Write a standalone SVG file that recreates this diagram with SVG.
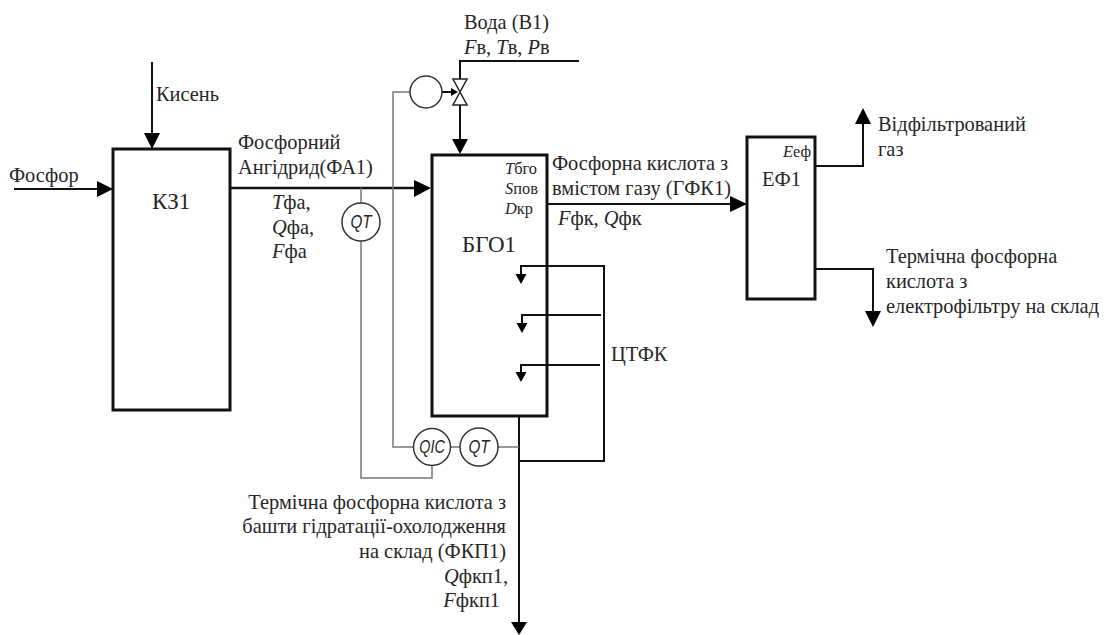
<svg xmlns="http://www.w3.org/2000/svg" width="1107" height="635" viewBox="0 0 1107 635">
<style>
text{font-family:"Liberation Serif","Times New Roman",serif;font-size:20.4px;fill:#262626}
.i{font-style:italic}
.big{font-size:23px}
.s{font-size:16.4px}
.q{font-family:"Liberation Sans",Arial,sans-serif;font-style:italic;font-size:18px;text-anchor:middle}
.box{fill:#fff;stroke:#111;stroke-width:3}
.k{fill:none;stroke:#111;stroke-width:2}
.k3{fill:none;stroke:#111;stroke-width:2.5}
.g{fill:none;stroke:#777;stroke-width:1.5}
.c{fill:#fff;stroke:#333;stroke-width:1.5}
.a{fill:#000;stroke:none}
</style>
<rect width="1107" height="635" fill="#fff"/>
<g id="kz1"><rect class="box" x="113" y="149" width="117" height="261"/><text class="big" x="152" y="209">КЗ1</text></g>
<g id="bgo1"><rect class="box" x="432" y="155" width="115" height="261"/><text class="big" x="462" y="252">БГО1</text>
<text class="s" x="505" y="174"><tspan class="i">T</tspan>бго</text>
<text class="s" x="505" y="194"><tspan class="i">S</tspan>пов</text>
<text class="s" x="505" y="214"><tspan class="i">D</tspan>кр</text></g>
<g id="ef1"><rect class="box" x="747" y="137" width="68" height="162"/><text class="big" style="font-size:20.5px" x="762" y="186">ЕФ1</text><text class="s" x="783" y="157"><tspan class="i">E</tspan>еф</text></g>
<g id="connectors">
<path class="k" d="M14 189H100"/><path class="a" d="M97 181L113 189L97 197Z"/>
<path class="k" d="M152 62V136"/><path class="a" d="M144 133H160L152 149Z"/>
<path class="k3" d="M230 188H418"/><path class="a" d="M414 180L431 188L414 197Z"/>
<path class="k" d="M579 61H460V79M460 105V142"/><path class="a" d="M452 139H468L460 154Z"/>
<path class="k" d="M547 204H734"/><path class="a" d="M730 196L747 204L730 212Z"/>
<path class="k" d="M815 166H863V120"/><path class="a" d="M855 124H871L863 108Z"/>
<path class="k" d="M815 269H873V314"/><path class="a" d="M865 311H881L873 327Z"/>
<path class="k" d="M519 416V625"/><path class="a" d="M511 622H527L519 635Z"/>
<path class="k" d="M519 461H604V266H521V277"/><path class="a" d="M515.500 274H526.500L521 284Z"/>
<path class="k" d="M601 315H522V326"/><path class="a" d="M516.500 323H527.500L522 333Z"/>
<path class="k" d="M600 365H521V375"/><path class="a" d="M515.500 372H526.500L521 382Z"/>
<path class="g" d="M361 188V203M361 241V478H432V466"/>
<path class="g" d="M410 92H393V447H414"/>
<path class="g" d="M450 447H460M498 447H519"/>
<path class="k" d="M442 92H452" stroke-width="1.5"/><path class="a" d="M451 88L458 92L451 96Z"/>
</g>
<g id="valve"><path d="M453 79H467L453 105H467Z" fill="#fff" stroke="#222" stroke-width="1.5"/></g>
<g id="qt1"><circle class="c" cx="361" cy="222" r="19"/><text class="q" transform="translate(361 228) scale(.85 1)">QT</text></g>
<g id="qic"><circle class="c" cx="432" cy="447" r="18.5"/><text class="q" transform="translate(432 453) scale(.8 1)">QIC</text></g>
<g id="qt2"><circle class="c" cx="479" cy="447" r="19"/><text class="q" transform="translate(479 453) scale(.85 1)">QT</text></g>
<g id="ctrl"><circle class="c" cx="426" cy="92" r="16"/></g>
<g id="labels">
<text x="9" y="182">Фосфор</text>
<text x="156" y="101">Кисень</text>
<text x="238" y="149">Фосфорний</text>
<text x="238" y="174">Ангідрид(ФА1)</text>
<text x="272" y="209"><tspan class="i">T</tspan>фа,</text>
<text x="272" y="234"><tspan class="i">Q</tspan>фа,</text>
<text x="272" y="258"><tspan class="i">F</tspan>фа</text>
<text x="464" y="29">Вода (В1)</text>
<text x="464" y="54"><tspan class="i">F</tspan>в, <tspan class="i">T</tspan>в, <tspan class="i">P</tspan>в</text>
<text x="552" y="170">Фосфорна кислота з</text>
<text x="552" y="195">вмістом газу (ГФК1)</text>
<text x="558" y="225"><tspan class="i">F</tspan>фк, <tspan class="i">Q</tspan>фк</text>
<text x="878" y="131">Відфільтрований</text>
<text x="878" y="156">газ</text>
<text x="886" y="263">Термічна фосфорна</text>
<text x="886" y="288">кислота з</text>
<text x="886" y="313">електрофільтру на склад</text>
<text x="611" y="361">ЦТФК</text>
<text x="506" y="509" text-anchor="end">Термічна фосфорна кислота з</text>
<text x="506" y="533" text-anchor="end">башти гідратації-охолодження</text>
<text x="506" y="558" text-anchor="end">на склад (ФКП1)</text>
<text x="508" y="583" text-anchor="end"><tspan class="i">Q</tspan>фкп1,</text>
<text x="500" y="607" text-anchor="end"><tspan class="i">F</tspan>фкп1</text>
</g>
</svg>
